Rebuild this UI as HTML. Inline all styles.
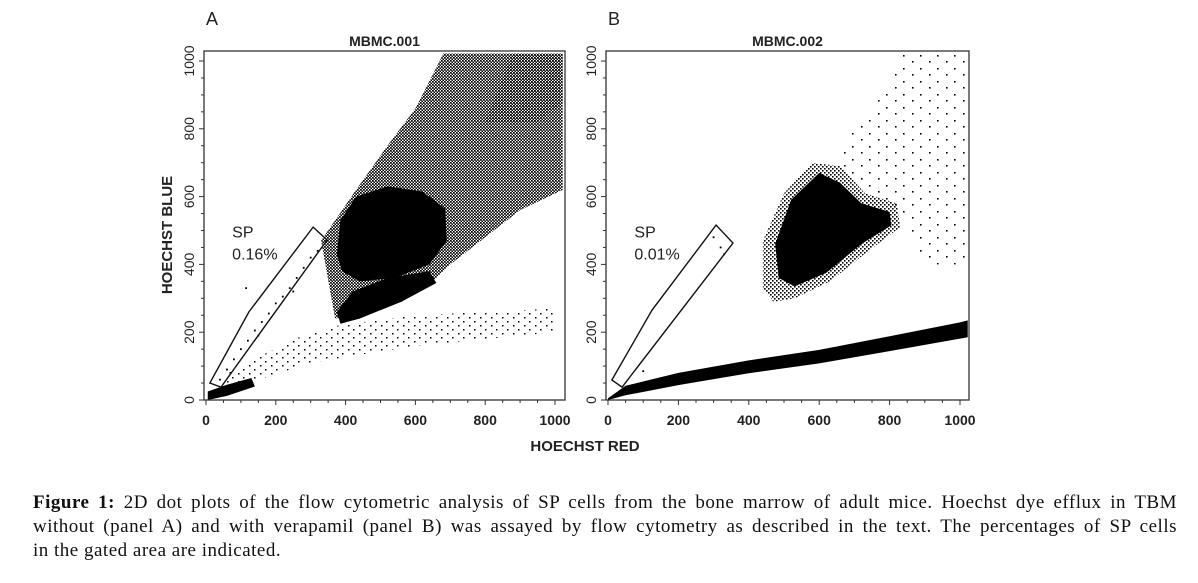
<!DOCTYPE html>
<html><head><meta charset="utf-8"><style>
body{margin:0;background:#fff;width:1198px;height:583px;overflow:hidden;font-family:"Liberation Sans",sans-serif}
svg{position:absolute;left:0;top:0}
.cap{position:absolute;left:33px;top:491px;width:1144px;font-family:"Liberation Serif",serif;font-size:19px;letter-spacing:0.5px;line-height:24px;color:#111}
.cap span{display:block;white-space:nowrap}
.cap .j{text-align:justify;text-align-last:justify;white-space:normal}
</style></head><body>
<svg id="chart" width="1198" height="583">
<defs>
<pattern id="dense" width="3" height="3" patternUnits="userSpaceOnUse"><rect x="0" y="0" width="1.7" height="1.7" fill="#000"/><rect x="1.5" y="1.5" width="1.5" height="1.5" fill="#000"/></pattern>
<pattern id="med" width="4" height="4" patternUnits="userSpaceOnUse"><rect x="0" y="0" width="1.6" height="1.6" fill="#000"/><rect x="2" y="2" width="1.6" height="1.6" fill="#000"/></pattern>
<pattern id="sparse" width="11" height="8" patternUnits="userSpaceOnUse"><rect x="1" y="1" width="1.5" height="1.5" fill="#000"/><rect x="7" y="5" width="1.5" height="1.5" fill="#000"/></pattern>
<pattern id="vsparse" width="17" height="13" patternUnits="userSpaceOnUse"><rect x="2" y="3" width="1.6" height="1.6" fill="#000"/><rect x="11" y="9" width="1.6" height="1.6" fill="#000"/></pattern>
</defs>
</svg>
<div class="cap"><span class="j"><b>Figure 1:</b> 2D dot plots of the flow cytometric analysis of SP cells from the bone marrow of adult mice. Hoechst dye efflux in TBM</span><span class="j">without (panel A) and with verapamil (panel B) was assayed by flow cytometry as described in the text. The percentages of SP cells</span><span>in the gated area are indicated.</span></div>
<script>
const xTicks=[0,200,400,600,800,1000];
const yTicks=[0,200,400,600,800,1000];
// Panel A regions (data coords)
const aDense=[[375,430],[385,530],[430,600],[520,630],[620,615],[685,565],[690,470],[640,400],[540,360],[440,350],[390,380]];
const aTail=[[385,225],[440,240],[560,290],[660,345],[640,380],[520,360],[420,320],[375,260]];
const aUpper=[[330,470],[430,620],[520,750],[600,860],[650,960],[680,1022],[1022,1022],[1022,620],[900,560],[800,480],[700,400],[640,340],[560,290],[420,250],[370,240]];
const aHot=[[800,820],[880,1022],[1022,1022],[1022,880],[950,820]];
const aOrigin=[[5,0],[60,12],[140,40],[130,65],[60,45],[5,25]];
const aLow=[[60,30],[300,110],[600,160],[1000,200],[1000,270],[600,250],[380,220],[250,180],[120,110],[60,60]];
const aGate=[[11,50],[123,260],[307,510],[347,472],[43,38]];
const aSPx=[40,60,80,100,120,140,160,180,200,220,240,260,280,300,320,115,70,150,250];
const aSPy=[60,90,120,150,175,205,230,255,285,305,330,360,390,420,440,330,80,190,320];
// Panel B regions
const bHalo=[[440,330],[440,470],[500,610],[580,700],[660,690],[730,610],[820,580],[830,510],[740,440],[630,350],[530,300],[470,290]];
const bDense=[[485,360],[475,460],[520,590],[600,670],[660,640],[720,580],[800,555],[805,515],[720,460],[620,375],[530,335]];
const bBandX=[0,50,200,400,600,800,1000,1022];
const bBandY=[0,28,62,98,128,166,205,210];
const bBandW=[10,28,36,38,40,44,48,50];
const bSparse=[[640,720],[780,900],[840,1022],[1022,1022],[1022,400],[900,400],[830,560],[720,640]];
const bGate=[[11,59],[125,265],[307,516],[355,463],[40,38]];
const bSPx=[300,320,330,100];
const bSPy=[480,450,430,85];

const NS='http://www.w3.org/2000/svg';
const svg=document.getElementById('chart');
function mk(t,a,p){const e=document.createElementNS(NS,t);for(const k in a)e.setAttribute(k,a[k]);(p||svg).appendChild(e);return e;}
function panel(id,x0,kx,fl,fr,title,label){
  const y0=400,ky=0.339;
  const sx=v=>x0+v*kx, sy=v=>y0-v*ky;
  const g=mk('g',{});
  
  
  const poly=(pts,fill,name)=>{const e=mk('polygon',{points:pts.map(p=>sx(p[0])+','+sy(p[1])).join(' '),fill:fill,'stroke-linejoin':'round'},g);
    
    return e;};
  return {g,sx,sy,poly,fl,fr,title,label,kx,x0};
}
function axes(P){
  const {g,sx,sy,fl,fr}=P;
  const f=mk('rect',{x:fl,y:51,width:fr-fl,height:349,fill:'none',stroke:'#333','stroke-width':1.3},g);
  
  
  for(let v=0;v<=1000;v+=50){
    const big=v%200===0;
    const t=mk('line',{x1:sx(v),x2:sx(v),y1:400,y2:400+(big?5:3),stroke:'#333','stroke-width':1},g);
    
    
    const u=mk('line',{x1:fl,x2:fl-(big?5:3),y1:sy(v),y2:sy(v),stroke:'#333','stroke-width':1},g);
    
    
  }
  xTicks.forEach(v=>{const t=mk('text',{x:sx(v),y:425,'text-anchor':'middle','font-size':14,'font-weight':'bold',fill:'#222'},g);t.textContent=v;
    
    });
  yTicks.forEach(v=>{const t=mk('text',{x:0,y:0,transform:`translate(${fl-10},${sy(v)}) rotate(-90)`,'text-anchor':'middle','font-size':14,fill:'#222'},g);t.textContent=v;
    
    });
  const ti=mk('text',{x:(fl+fr)/2,y:46,'text-anchor':'middle','font-size':14,'font-weight':'bold',fill:'#222'},g);ti.textContent=P.title;
  
  
  const lb=mk('text',{x:fl+2,y:25,'font-size':18,fill:'#222'},g);lb.textContent=P.label;
  
  
}
function dots(P,xs,ys){xs.forEach((x,i)=>{const d=mk('rect',{x:P.sx(x)-0.9,y:P.sy(ys[i])-0.9,width:1.8,height:1.8,fill:'#000'},P.g);
  
  });}
function gate(P,pts,pct){
  const e=mk('polygon',{points:pts.map(p=>P.sx(p[0])+','+P.sy(p[1])).join(' '),fill:'none',stroke:'#111','stroke-width':1.4},P.g);
  
  
  const t1=mk('text',{x:P.sx(75),y:P.sy(480),'font-size':16,fill:'#222'},P.g);t1.textContent='SP';
  
  
  const t2=mk('text',{x:P.sx(75),y:P.sy(415),'font-size':16,fill:'#222'},P.g);t2.textContent=pct;
  
  
}
const A=panel('a',206,0.349,204,565,'MBMC.001','A');
A.poly(aLow,'url(#sparse)','low-scatter-region');
A.poly(aUpper,'url(#dense)','upper-diagonal-population');
A.poly(aHot,'url(#dense)','upper-right-hotspot');
A.poly(aTail,'#000','lower-tail-population');
A.poly(aDense,'#000','main-population');
A.poly(aOrigin,'#000','origin-population');
dots(A,aSPx,aSPy);
gate(A,aGate,'0.16%');
axes(A);
const B=panel('b',608,0.352,606,969,'MBMC.002','B');
B.poly(bSparse,'url(#vsparse)','upper-scatter-region');
B.poly(bHalo,'url(#med)','main-population-halo');
B.poly(bDense,'#000','main-population');
const bandUpper=bBandX.map((x,i)=>[x,bBandY[i]+bBandW[i]/2]);
const bandLower=bBandX.map((x,i)=>[x,Math.max(0,bBandY[i]-bBandW[i]/2)]).reverse();
B.poly(bandUpper.concat(bandLower),'#000','lower-band-population');
dots(B,bSPx,bSPy);
gate(B,bGate,'0.01%');
axes(B);
const yl=mk('text',{x:0,y:0,transform:'translate(172,235) rotate(-90)','text-anchor':'middle','font-size':15,'font-weight':'bold',fill:'#222'});yl.textContent='HOECHST BLUE';


const xl=mk('text',{x:585,y:451,'text-anchor':'middle','font-size':15,'font-weight':'bold',fill:'#222'});xl.textContent='HOECHST RED';


</script>
</body></html>
